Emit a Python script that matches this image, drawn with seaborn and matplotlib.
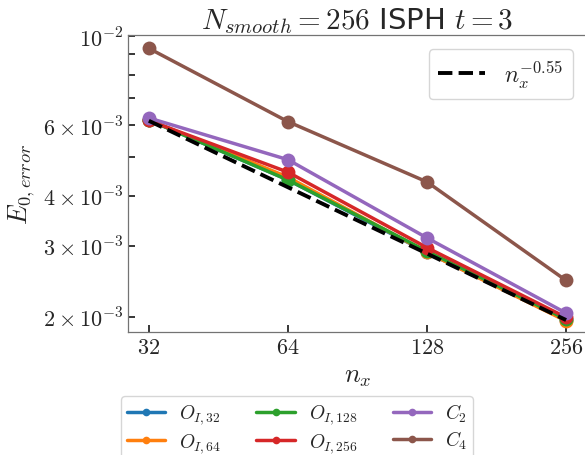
import matplotlib
matplotlib.use("Agg")
import numpy as np
import pandas as pd
import seaborn as sns
import matplotlib.pyplot as plt
from matplotlib.ticker import FixedLocator, FixedFormatter, NullLocator, NullFormatter

# ---- data ----
nx = [32, 64, 128, 256]
series_labels = [r'$O_{I,32}$', r'$O_{I,64}$', r'$O_{I,128}$', r'$O_{I,256}$', r'$C_2$', r'$C_4$']
err_OI32 = [6.18e-3, 4.38e-3, 2.89e-3, 1.96e-3]
err_OI64 = [6.18e-3, 4.45e-3, 2.89e-3, 1.95e-3]
err_OI128 = [6.18e-3, 4.38e-3, 2.91e-3, 1.97e-3]
err_OI256 = [6.16e-3, 4.58e-3, 2.97e-3, 1.99e-3]
err_C2 = [6.25e-3, 4.92e-3, 3.14e-3, 2.04e-3]
err_C4 = [9.32e-3, 6.12e-3, 4.33e-3, 2.46e-3]
ref_line = [6.15e-3, 4.20e-3, 2.87e-3, 1.96e-3]
ref_label = r'$n_x^{-0.55}$'
xtick_labels = ['$32$', '$64$', '$128$', '$256$']
ytick_major = [2e-3, 3e-3, 4e-3, 6e-3, 1e-2]
ytick_labels = [r'$2\times10^{-3}$', r'$3\times10^{-3}$', r'$4\times10^{-3}$',
                r'$6\times10^{-3}$', r'$10^{-2}$']
ytick_minor = [5e-3, 7e-3, 8e-3, 9e-3]

all_series = [err_OI32, err_OI64, err_OI128, err_OI256, err_C2, err_C4]
df = pd.DataFrame({
    'nx': np.tile(nx, len(all_series)),
    'err': np.concatenate(all_series),
    'series': np.repeat(series_labels, len(nx)),
})

sns.set_theme(style="white")
plt.rcParams['mathtext.fontset'] = 'cm'
plt.rcParams['font.family'] = ['DejaVu Sans']

fig = plt.figure(figsize=(5.85, 4.56), dpi=100)
ax = fig.add_axes([0.2188, 0.2697, 0.7846, 0.6513])

palette = sns.color_palette("tab10", 6)
sns.lineplot(data=df, x='nx', y='err', hue='series', hue_order=series_labels,
             palette=palette, marker='o', markersize=10, markeredgewidth=0,
             linewidth=2.5, ax=ax, sort=False)
sns.lineplot(x=nx, y=ref_line, color='black', linestyle='--', linewidth=2.8,
             label=ref_label, ax=ax, zorder=5)

ax.set_xscale('log', base=2)
ax.set_yscale('log')
ax.set_xlim(28.84, 284.1)
ax.set_ylim(1.83e-3, 1.006e-2)

ax.xaxis.set_major_locator(FixedLocator(nx))
ax.xaxis.set_major_formatter(FixedFormatter(xtick_labels))
ax.xaxis.set_minor_locator(NullLocator())
ax.yaxis.set_major_locator(FixedLocator(ytick_major))
ax.yaxis.set_major_formatter(FixedFormatter(ytick_labels))
ax.yaxis.set_minor_locator(FixedLocator(ytick_minor))
ax.yaxis.set_minor_formatter(NullFormatter())

ax.tick_params(axis='both', which='both', direction='in', length=5, width=1.1,
               color='black', labelsize=16, left=True, bottom=True)
for s in ax.spines.values():
    s.set_color('0.45')
    s.set_linewidth(0.9)

ax.set_xlabel(r'$n_x$', fontsize=19)
ax.set_ylabel(r'$E_{0,error}$', fontsize=19)
ax.set_title(r'$N_{smooth} = 256$ ISPH $t = 3$', fontsize=21, pad=3,
             fontfamily='DejaVu Sans')

handles, labels = ax.get_legend_handles_labels()
ref_h = [h for h, l in zip(handles, labels) if l == ref_label]
data_h = [h for h, l in zip(handles, labels) if l in series_labels]
data_l = [l for l in labels if l in series_labels]
if ax.get_legend() is not None:
    ax.get_legend().remove()

ax.legend(handles=ref_h, labels=[ref_label], loc='upper right', fontsize=17,
          frameon=True, borderaxespad=0.6)
fig.legend(handles=data_h, labels=data_l, loc='upper center', ncol=3,
           bbox_to_anchor=(297 / 585, 1 - 387 / 456), fontsize=14,
           markerscale=0.55, frameon=True, labelspacing=0.25, borderpad=0.3,
           handletextpad=0.7, columnspacing=1.8)

fig.savefig("out.png", dpi=100)
